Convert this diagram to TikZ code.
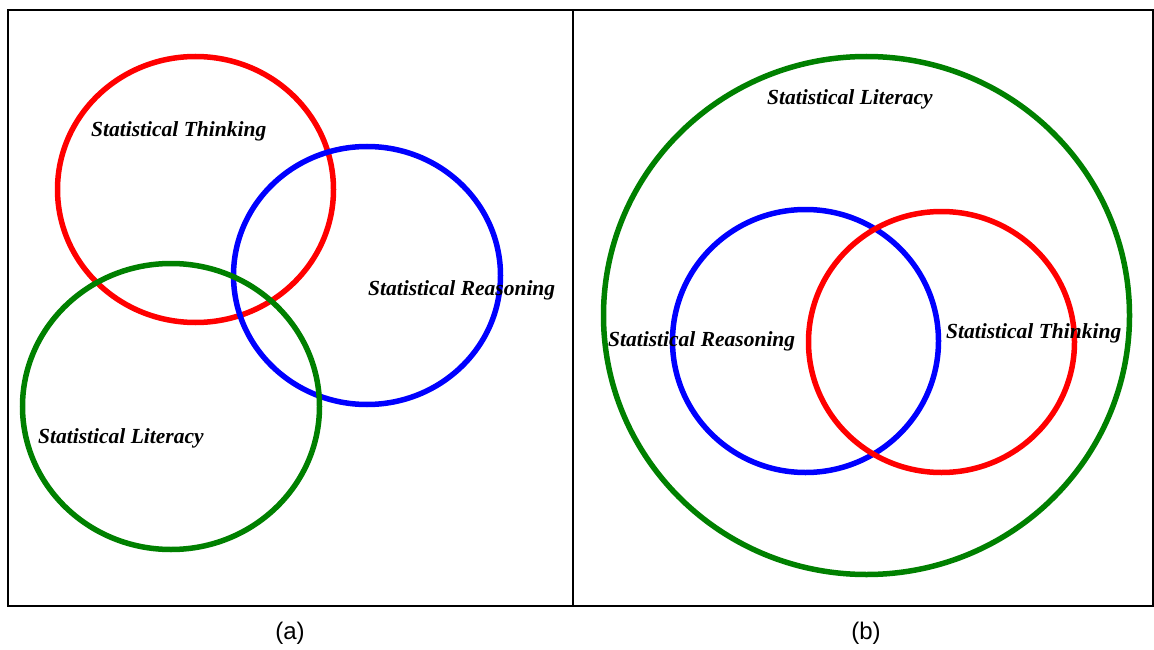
\documentclass[tikz,border=0pt]{standalone}
\usepackage{fontspec}
\setmainfont{Liberation Serif}
\newfontfamily\labelfont{Liberation Sans}
\begin{document}
\begin{tikzpicture}[x=1pt,y=-1pt,
  ring/.style={line width=5.5pt},
  frame/.style={line width=2pt,black},
  lbl/.style={font=\fontsize{21.5}{24}\selectfont\bfseries\itshape,anchor=west,inner sep=0pt},
  captxt/.style={font=\labelfont\fontsize{24}{28}\selectfont,inner sep=0pt}]
\useasboundingbox (0,0) rectangle (1154,650);
% frame
\draw[frame] (8,10) rectangle (1153,606);
\draw[frame] (573,10) -- (573,606);
% panel (a)
\draw[ring,red] (195.5,189.5) ellipse [x radius=138,y radius=133];
\draw[ring,blue] (367,275.5) ellipse [x radius=133.5,y radius=129];
\draw[ring,green!50!black] (171,406.5) ellipse [x radius=148.5,y radius=143];
\node[lbl] (tA) at (91,131) {Statistical Thinking};
\node[lbl] (rA) at (368,290) {Statistical Reasoning};
\node[lbl] (lA) at (38,438) {Statistical Literacy};
% panel (b)
\draw[ring,green!50!black] (866.5,315.5) ellipse [x radius=263,y radius=259];
\draw[ring,blue] (805.5,341) ellipse [x radius=133,y radius=131.5];
\draw[ring,red] (941.5,342) ellipse [x radius=133,y radius=130.5];
\node[lbl] (lB) at (767,99) {Statistical Literacy};
\node[lbl] (rB) at (608,341) {Statistical Reasoning};
\node[lbl] (tB) at (946,333) {Statistical Thinking};
% captions
\node[captxt] (ca) at (290,633) {(a)};
\node[captxt] (cb) at (866,633) {(b)};
\end{tikzpicture}
\end{document}
